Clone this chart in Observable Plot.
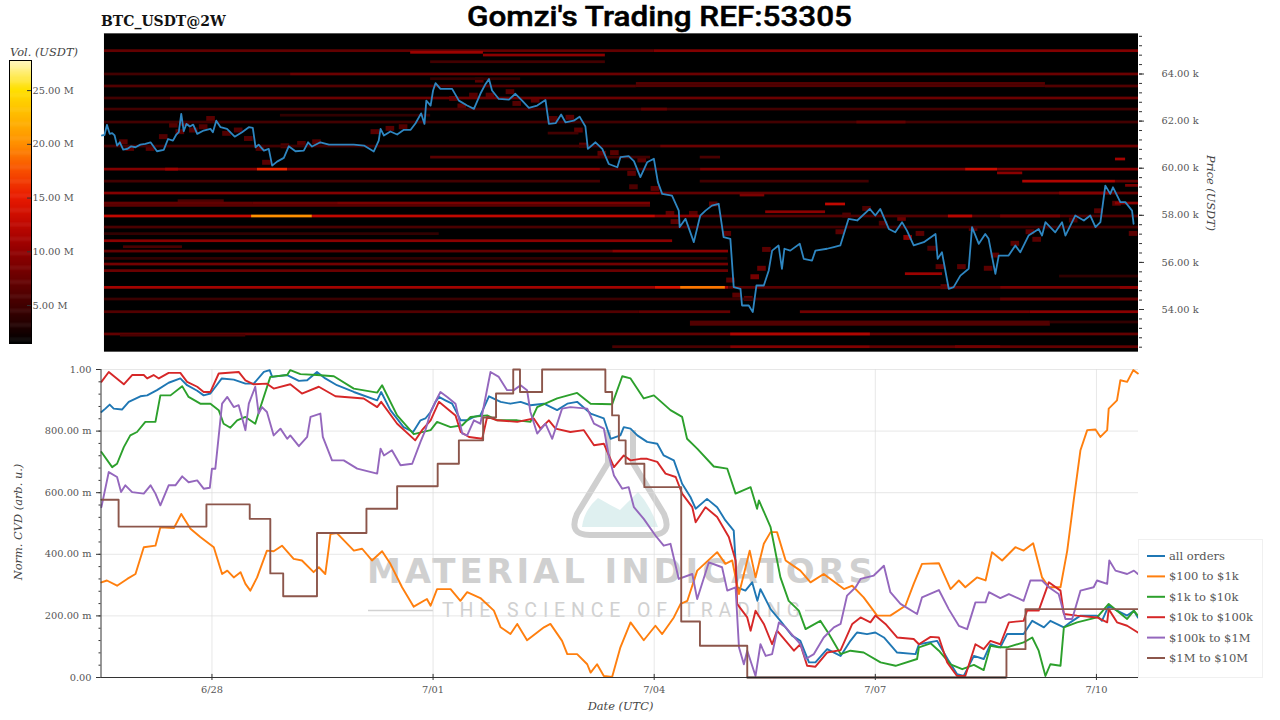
<!DOCTYPE html>
<html><head><meta charset="utf-8">
<script src="https://cdn.jsdelivr.net/npm/d3@7"></script>
<script src="https://cdn.jsdelivr.net/npm/@observablehq/plot@0.6"></script>
<style>
html,body{margin:0;padding:0;background:#fff;width:1280px;height:720px;overflow:hidden}
#page{position:relative;width:1280px;height:720px}
</style></head><body><div id="page"></div>
<script>
// Time is in hours after 2024-06-26 12:00 UTC.
const price = [[0.2,61390],[1,61410],[1.8,61840],[2.7,61460],[3.5,61490],[4.3,61390],[5.1,60960],[6,61100],[7.1,60790],[8.4,60820],[9.7,60930],[11.1,60890],[12.7,61000],[14.3,61030],[16,61100],[18.1,60720],[20.3,60780],[21.7,61240],[23.3,61170],[24.4,61430],[25.2,61530],[26,62310],[26.8,61570],[27.7,61880],[28.8,61770],[29.9,61850],[31.2,61460],[33.3,61600],[35.5,61670],[36.3,61530],[37.4,62020],[38.8,61740],[40.9,61670],[43.4,61340],[45.8,61530],[48,61740],[49.3,61710],[50.2,60890],[51.2,61000],[52.9,60750],[54.5,60820],[55.6,60110],[57.2,60280],[59.4,60440],[61,60930],[63.2,60720],[65.9,60750],[67.3,61100],[68.6,60920],[71.3,61100],[74.1,61000],[77.9,61000],[82.2,61000],[85.5,60960],[88.7,60710],[90.3,61170],[90.9,61670],[92,61390],[94.1,61560],[96.3,61430],[98.5,61630],[100.7,61630],[102.3,61910],[104.1,62330],[105.2,61880],[105.8,62870],[107.2,62660],[108,63300],[108.8,63610],[110.4,63370],[112,63370],[114.2,63370],[116.4,62870],[119.1,62660],[121.3,62520],[123.4,63160],[125.1,63580],[126.2,63790],[127.2,63300],[129.4,62940],[132.7,62910],[134.8,63160],[137,62870],[139.2,62560],[141.9,62660],[144.6,62900],[145.7,61880],[147.9,61910],[149.7,62280],[151.1,61950],[153.8,62020],[155.7,62190],[157.6,61770],[158.4,60820],[160.9,61100],[163.1,60820],[165.2,60180],[168,60040],[169,60470],[171.7,60510],[173.4,60300],[175.5,59620],[177.7,60250],[179.9,60400],[181.2,59410],[182.6,58910],[185.8,58840],[188,58200],[188.3,57500],[190.2,57850],[192.9,56860],[195,57990],[196.7,58200],[198.8,58410],[201,58490],[202.6,57070],[204.8,57000],[205.9,54950],[208.1,54880],[208.6,54170],[210.8,54170],[212.1,53890],[213.3,55020],[215.7,55020],[217.3,55660],[218.4,56500],[220.5,56720],[221.6,55730],[222.4,56580],[224.3,56500],[227.4,56790],[228.7,56150],[231.4,56080],[232.5,56500],[236.3,56580],[238.5,56650],[240.6,56720],[243.3,57850],[246.1,57780],[250.2,58270],[252,57990],[253.6,58270],[256.4,57420],[258.5,57280],[260.7,57710],[262.3,57350],[264.5,56720],[267.8,56860],[271.6,57210],[272.3,56150],[273.7,56430],[275.9,54880],[277.5,54950],[279.7,55440],[282.4,55730],[283.5,57500],[285.7,56790],[287.8,57210],[288.9,57000],[291.1,55510],[292.2,56290],[295.4,56290],[297.6,56720],[299.2,56430],[301.9,57140],[305.2,57420],[306.3,57140],[307.4,57710],[310.6,57280],[312.8,57710],[313.9,57140],[317.1,57990],[319.9,57780],[322,57990],[323.7,57500],[325.3,57710],[326.9,59260],[328.5,58910],[329.4,59190],[331.8,58560],[333.4,58560],[335.6,58200],[336.1,57640]];

const allOrders = [[0,862],[1.3,873],[2.7,886],[4,873],[6.7,870],[8.9,895],[12.7,913],[14.9,916],[18.1,933],[21.9,957],[25.7,971],[27.9,949],[31.2,931],[33.3,916],[35.5,922],[39.2,971],[43.1,967],[46.9,954],[49.6,954],[52.9,992],[54.8,998],[55.6,976],[60.5,982],[64.3,963],[67,965],[70.2,992],[72.9,971],[76.7,949],[82.2,927],[89.8,900],[91.1,927],[94.1,868],[98.4,813],[101.5,797],[103.9,835],[105.5,841],[107.2,862],[108.8,895],[109.9,911],[112,900],[114.2,889],[117,835],[119.1,835],[121.3,846],[123.4,851],[126.2,913],[130,895],[133.2,889],[136.5,895],[139.7,884],[144.1,889],[148.4,868],[151.7,889],[154.9,895],[159.3,857],[163.6,841],[165.8,775],[169,786],[170.1,813],[172.3,808],[174.5,786],[177.7,765],[181,759],[183.1,721],[186.4,705],[189.1,629],[191.8,586],[193.5,548],[197.2,580],[200.5,553],[203.2,510],[205.9,477],[207,293],[209.7,282],[211.9,309],[213.6,249],[214.6,287],[217.9,222],[221.1,184],[224.9,136],[227.6,119],[230.4,49],[232.5,49],[236.3,92],[240.7,70],[243.9,119],[245.6,141],[246.1,146],[249.3,141],[252,146],[254.8,130],[259.1,81],[265.1,76],[266.2,108],[272.1,119],[275.9,54],[278.6,11],[280.8,5],[284.1,70],[287.3,60],[289.5,108],[292.7,98],[294.9,141],[300.3,141],[303.1,184],[306.9,163],[309,184],[313.4,163],[315.5,179],[318.8,201],[324.2,201],[325.8,184],[328,233],[330.7,217],[334,201],[336.2,217],[337.5,195]];

const orders100to1k = [[0,309],[1.8,315],[5.1,298],[8.4,320],[11.1,336],[13.8,423],[17.6,428],[19.2,488],[23.6,485],[26,531],[29,483],[32.2,456],[36.6,423],[39.3,336],[41,347],[43.1,325],[45.3,342],[46.9,304],[48.5,282],[50.7,325],[53.9,412],[56.1,410],[58.8,428],[62.6,385],[65.3,380],[69.1,342],[70.8,358],[72.9,336],[74,418],[74.6,466],[76.7,469],[82.2,412],[84.9,418],[88.1,380],[91.4,410],[94.1,369],[97.9,293],[101.7,230],[106,255],[107.2,233],[109.3,287],[113.7,287],[116.9,249],[119.1,277],[123.4,258],[127.8,217],[130,163],[133.2,141],[135.4,174],[138.6,121],[144.1,163],[146.2,174],[150,119],[151.7,76],[154.9,76],[158.2,43],[159.3,16],[161.4,43],[163.6,5],[166.3,2],[169,98],[172.3,179],[176.6,121],[180.4,168],[182.6,141],[186.4,195],[188.6,239],[190.8,249],[194,347],[200.5,407],[203.2,369],[205.4,380],[207.6,271],[211.1,412],[213,325],[215.7,434],[217.9,472],[220,472],[222.8,380],[227.6,347],[230.9,309],[235.2,336],[241.8,287],[244.5,298],[248.2,260],[252.6,201],[256.9,201],[261.8,233],[264.5,304],[267.2,369],[272.7,371],[276.5,287],[279.2,315],[281.3,293],[285.1,325],[287.9,315],[290,407],[293.3,380],[297.6,423],[300.3,412],[303.4,436],[306.3,325],[308.5,293],[312.3,293],[314.5,412],[316.6,575],[318.8,738],[321,803],[323.7,805],[325.3,781],[327.5,803],[328,873],[330.7,900],[331.8,965],[334,960],[336,998],[337.5,987]];

const orders1kto10k = [[0,732],[3.5,683],[5.1,694],[7.3,748],[9.4,786],[11.6,797],[14.3,830],[17.6,830],[19.2,916],[22.5,916],[26.3,946],[28.4,911],[32.2,889],[35.5,889],[38.2,868],[39.8,824],[42,811],[44.2,835],[46.9,846],[50.1,824],[51.8,878],[55,976],[60.5,982],[61.5,998],[64.8,985],[70.2,982],[75.7,978],[82.2,938],[89.8,925],[91.4,949],[96.3,851],[101.7,790],[107.2,803],[109.3,830],[113.7,813],[117.5,819],[120.2,846],[125.6,851],[128.9,835],[135.4,835],[139.7,830],[141.9,878],[148.4,906],[154.9,924],[159.3,889],[166.3,887],[169.6,978],[172.3,971],[176.6,906],[179.9,916],[185.3,868],[189.1,846],[190.7,775],[194,743],[199.4,685],[203.8,678],[206.5,597],[211.4,618],[213.5,548],[214.1,575],[217.9,488],[221.1,325],[223.8,249],[227.1,217],[229.3,157],[234.1,184],[236.9,141],[240.7,76],[243.9,87],[248.2,81],[253.7,49],[258.6,38],[265.6,60],[266.2,98],[270,111],[272.7,87],[276.5,43],[280.3,27],[284.1,41],[287.3,24],[289.5,103],[292.2,98],[294.9,98],[300.3,114],[303.1,130],[305.2,87],[307.4,5],[309,43],[312.3,38],[313.4,163],[317.7,179],[324.2,195],[328,239],[330.7,217],[334,190],[336.2,217],[337.5,201]];

const orders10kto100k = [[0,960],[2.4,992],[7.3,952],[10,982],[13.8,982],[14.9,971],[17,982],[18.7,971],[21.9,989],[25.7,989],[27.9,960],[31.2,944],[33.3,927],[35.5,927],[38.2,987],[44.7,992],[46.9,965],[49.6,952],[53.9,954],[56.1,938],[61.5,952],[65.3,922],[70.8,944],[76.2,913],[85.4,906],[89.8,878],[91.1,895],[96.3,824],[102.2,770],[104.4,803],[107.2,835],[109.9,895],[115.3,851],[117,797],[119.7,781],[124,775],[125.6,846],[128.9,835],[135.4,830],[140.8,841],[143,808],[145.7,835],[147.9,808],[152.7,797],[157.1,803],[160.4,754],[163.6,759],[166.9,683],[170.1,721],[172.3,705],[175.5,710],[177.7,710],[181,700],[183.7,662],[187,651],[189.1,597],[192.4,553],[193.5,504],[196.7,553],[200.5,521],[204.3,456],[206.5,380],[207,239],[210.3,195],[211.4,152],[213,217],[215.7,174],[218.4,108],[220,152],[225.5,87],[227.6,108],[229.8,38],[232.5,35],[236.3,81],[240.7,89],[244.5,174],[247.2,195],[250.4,179],[252,201],[255.3,174],[259.1,130],[264.5,125],[266.2,108],[270,132],[272.7,130],[275.4,49],[278.6,5],[281.3,5],[284.6,108],[287.3,92],[289.5,119],[292.7,108],[295.5,179],[300.3,184],[301.4,217],[305.2,217],[308.5,309],[312.3,282],[313.4,206],[317.7,201],[324.2,195],[327.5,179],[328,222],[330.7,179],[334,168],[337.5,146]];

const orders100kto1M = [[0,553],[2.4,667],[5.1,651],[6.4,602],[7.8,624],[10,602],[13.8,597],[16,624],[17.6,597],[19.2,559],[21.9,624],[24.1,624],[26.3,653],[28.4,634],[31.2,640],[33.3,613],[35.3,616],[36,678],[37.1,678],[39.3,889],[41,911],[43.1,878],[44.7,884],[46.9,803],[48,889],[50.1,944],[51.2,857],[52.3,878],[53.9,862],[56.1,786],[58.3,808],[60.5,775],[61.5,786],[64.3,751],[67,781],[68.1,846],[71.3,857],[72.1,781],[75.1,705],[78.9,705],[83.3,678],[89.8,662],[90.9,743],[92,721],[94.6,738],[97.4,689],[101.2,694],[103.9,765],[105.5,803],[107.2,862],[109.3,906],[110.4,927],[112.6,911],[115.3,889],[117.5,792],[119.1,786],[121.3,835],[123.4,824],[126.7,992],[129.4,976],[132.1,933],[134.3,933],[136.5,949],[138.6,933],[139.7,862],[141.9,792],[144.6,824],[146.8,775],[150,873],[152.7,878],[158.2,873],[160.4,824],[163.6,808],[165.2,721],[166.9,656],[169.6,613],[171.7,618],[173.4,553],[176.6,515],[180.4,461],[183.1,428],[185.3,434],[188,320],[192.4,336],[194,255],[197.8,374],[202.1,358],[203.8,282],[206.5,293],[207.6,98],[209.2,43],[210.3,87],[213,5],[214.6,108],[216.3,70],[218.4,76],[220.6,179],[222.8,163],[227.6,108],[229.3,60],[232,76],[235.2,130],[238.5,163],[240.7,174],[242.8,266],[245.6,293],[247.2,320],[251.5,331],[254.8,363],[256.9,277],[260.2,239],[265.6,206],[267.2,260],[272.7,284],[275.9,222],[279.2,168],[281.9,157],[284.6,244],[287.9,244],[289,277],[292.7,258],[295.5,271],[300.3,249],[302.5,315],[306.3,315],[308.5,293],[311.7,271],[313.9,190],[316.1,190],[318.8,282],[323.1,293],[324.2,315],[327.5,304],[328.2,380],[330.2,347],[334,336],[336.2,347],[337.5,336]];

const orders1Mto10M = [[0,577],[5.6,490],[34.2,562],[48.3,515],[55,338],[59.2,264],[70.2,469],[86.3,548],[96.3,621],[109.5,694],[116.4,770],[124.3,844],[128.5,922],[134.1,1000],[136.3,927],[143.5,1000],[164.1,927],[166.3,851],[168.5,770],[170.7,694],[176.8,618],[188.8,182],[194.9,103],[210.3,0],[294.7,92],[300.9,222],[337.7,222]];

// Order-book rows: [price, from hour, to hour, volume in millions]
const heatRows = [
[64970,1,180,7],[64970,180,337.7,9],[64900,100.7,124.4,10.5],[64785,124.4,164.1,9.5],[64500,107.2,164.1,5],
[63980,1,61.6,5],[63980,61.6,337.7,7.5],[63780,107.2,136.5,4],
[63580,174.2,307.4,6],[63480,174.2,307.4,6],[63470,1,174.2,6],[63470,307.4,337.7,6],
[62960,22.5,337.7,7.5],[62960,1,22.5,5],[62490,1,337.7,5],[62490,175.9,184.3,7],
[62230,58.3,107.2,4],[61940,1,337.7,5],[61940,246,262,7],[61470,145.5,155.5,5],
[60920,1,182.1,5],[60920,182.1,337.7,7.5],
[60450,107.2,162.5,6.5],[60450,162.5,178.8,5],[60450,195,201.6,5.5],[60370,330.2,333.5,11],
[59940,1,50.8,9],[59940,50.8,60.6,15.5],[59940,60.6,162.5,9],[59940,162.5,195.1,5.5],[59940,195.1,281.4,8.5],[59940,281.4,291.8,13],[59940,291.8,337.7,9],[59940,20.9,25.1,10.5],[59780,291.8,300,9.5],
[59430,1,162.5,5],[59430,195,250,5],[59430,300,330.2,11.5],[59430,330.2,337.7,7],[59250,333.5,337.7,8.5],
[58925,1,182,9],[58925,182,337.7,7],[58925,312,328.6,9],[58840,208,216,8.5],
[58600,25,40,5.5],[58500,1,49.5,7],[58500,49.5,76.9,7.5],[58500,76.9,178.8,8.5],[58500,330.2,337.7,9.5],[58460,235.8,242.3,12.5],[58400,1,178.8,6.5],[58130,216.3,235.8,9.5],
[57950,1,48.9,12.5],[57950,48.9,68.7,20],[57950,68.7,180.4,12.5],[57950,180.4,195,9.5],[57950,195,337.7,6],[57950,275.8,283.7,12],[57950,292.8,312.3,8],
[57480,1,195,5.5],[57480,195,337.7,5],[57200,1,110,4],
[56900,1,186,9.5],[56645,7.2,26.4,5.5],[56460,1,166.5,7],[56460,166.5,204.2,9.5],[56150,1,204,4],
[55910,1,204.2,8],[55630,1,204.2,7.5],[55500,261.8,273.9,10.5],[55400,312,337.7,4],
[54920,1,180.4,11],[54920,180.4,188.6,14],[54920,188.6,203.2,19],[54920,203.2,204.2,11],[54920,204.2,292.8,6.5],[54920,292.8,337.7,8.5],[54920,331.8,337.7,9.5],
[54425,1,337.7,4.5],[54425,292.8,337.7,7],
[53885,1,175,6],[53885,175,204.9,7],[53885,227.6,302.5,8],[53885,302.5,337.7,9.5],
[53450,191.8,309,6],[53350,191.8,309,6],[53450,309,337.7,4],
[52940,1,337.7,7],[52890,6.2,47,5.5],[52940,204.9,250.4,11.5],
[52400,166.5,204.9,5.5],[52400,204.9,250.4,9],[52400,250.4,337.7,7],[52400,278.1,292.8,8]
];
// Short volume clusters sitting along the traded price: [hour, price, volume in millions]
const priceClusters = [[7.3,61100,7.5],[9.4,60820,7.5],[16,60820,7],[20.3,61320,7],[23.6,61810,7],[25.7,61530,7.5],[27.4,61880,7.5],[30.1,61600,7],[33.3,61740,7],[35.7,62090,7.5],[40.9,61460,7],[44.7,61600,7],[48,61240,7],[51.8,60820,7],[53.9,60230,7.5],[59.9,60930,7],[65.3,61030,7],[70.2,61100,7],[89.2,61530,7.5],[94.1,61670,7.5],[98.4,61740,7],[114.8,62940,7],[117.5,62620,7.5],[121.3,63080,7],[123.2,63720,7.5],[126.7,63080,7.5],[133.2,63230,7],[135.4,62730,7],[141.4,62870,7.5],[147.3,62090,7],[152.7,62140,7.5],[155.5,61600,7.5],[157.1,60960,7.5],[163.1,60610,7.5],[167.2,60640,7.5],[172.8,59760,7.5],[176.1,60330,7.5],[173.4,59190,6.5],[180.4,59120,7.5],[185.3,58060,7.5],[186.9,57710,7.5],[192.9,58060,7],[199.4,58460,7.5],[203.8,57210,7.5],[216.7,56530,7.5],[215.1,55730,8.5],[212.9,55370,9.5],[210.8,54450,7.5],[205,55230,7.5],[207,54590,7.5],[240.6,57280,7.5],[242.8,57990,6.5],[249.3,58270,6.5],[254.7,57640,6.5],[260.7,57850,8.5],[262.7,57040,11],[266.7,57210,7.5],[270.5,56580,6.5],[273.2,55800,7.5],[274.8,54950,7.5],[280.2,55800,7.5],[284,57420,7.5],[288.9,55730,7.5],[291.1,56290,7.5],[297.6,56790,7.5],[302.5,57280,7.5],[304.7,56960,7.5],[316.6,57780,6.5],[324.8,58170,7.5],[330.7,58490,7.5],[336.1,57210,7.5]];

const volumeStops = [1.47,3,5,7.5,10,12.5,15,17.5,20,22.5,25,27.8];
const volumeColors = ["#000000","#200000","#420000","#6a0000","#920000","#c00800","#e81a00","#f85000","#ff9000","#ffb800","#ffe000","#fff8c8"];
const volumeTicks = [5,10,15,20,25];
const priceTicks = [54000,56000,58000,60000,62000,64000];
const cvdTicks = [0,200,400,600,800,1000];
const dateTicks = [[5,28],[6,1],[6,4],[6,7],[6,10]].map(([m,d])=>new Date(Date.UTC(2024,m,d)));
const seriesNames = ["all orders","$100 to $1k","$1k to $10k","$10k to $100k","$100k to $1M","$1M to $10M"];
const seriesColors = ["#1f77b4","#ff7f0e","#2ca02c","#d62728","#9467bd","#8c564b"];
const seriesData = [allOrders,orders100to1k,orders1kto10k,orders10kto100k,orders100kto1M,orders1Mto10M];

const t0 = Date.UTC(2024,5,26,12);
const T = h => new Date(t0 + h*3600000);
const xDomain = [T(-0.13), T(337.7)];
const font = "DejaVu Serif";
const TXT = "#555", TK = "#333";
const baseStyle = {background:"transparent", fontFamily:font, fontSize:"9.8px"};
const colorOpt = {type:"linear", domain:volumeStops, range:volumeColors, clamp:true};

const page = document.getElementById("page");
const wm = document.createElementNS("http://www.w3.org/2000/svg","svg");
wm.setAttribute("width",1280); wm.setAttribute("height",720);
wm.innerHTML = `
<path d="M608 430 V463 L577 514 Q568 535 590 535 H651 Q673 535 664 514 L633 463 V430" fill="none" stroke="#cfcfcf" stroke-width="6" stroke-linejoin="round"/>
<path d="M582 527 Q584 510 598 498 Q610 505 620 510 Q630 500 638 492 Q650 505 658 527 Z" fill="#dff0f0"/>
<text x="367" y="583" textLength="506" lengthAdjust="spacing" font-family="DejaVu Sans" font-weight="700" font-size="34" fill="#d0d0d0">MATERIAL INDICATORS</text>
<text x="442" y="617" textLength="358" lengthAdjust="spacing" font-family="Roboto" font-size="19.5" fill="#d0d0d0">THE SCIENCE OF TRADING</text>
<line x1="368" x2="433" y1="610.5" y2="610.5" stroke="#d2d2d2" stroke-width="1.5"/>
<line x1="805" x2="872" y1="610.5" y2="610.5" stroke="#d2d2d2" stroke-width="1.5"/>`;
page.appendChild(wm);

const clusterW = 1.4, clusterH = 105;
const topPlot = Plot.plot({
  width:1280, height:720, marginLeft:100.5, marginRight:142, marginTop:33, marginBottom:369,
  style:baseStyle,
  x:{type:"utc", domain:xDomain, axis:null},
  y:{domain:[52217,65720], axis:null},
  color:colorOpt,
  marks:[
    Plot.rect([0],{x1:()=>T(1), x2:()=>T(337.7), y1:()=>52217, y2:()=>65720, fill:"#000"}),
    Plot.rect(priceClusters,{x1:d=>T(d[0]-clusterW), x2:d=>T(d[0]+clusterW), y1:d=>d[1]-clusterH, y2:d=>d[1]+clusterH, fill:d=>d[2], opacity:0.85}),
    Plot.rect(heatRows,{x1:d=>T(d[1]), x2:d=>T(d[2]), y1:d=>d[0]-58, y2:d=>d[0]+58, fill:d=>d[3]}),
    Plot.ruleY([65720,52217],{x1:()=>T(1),x2:()=>T(337.7),stroke:"#555",strokeWidth:1}),
    Plot.line(price,{x:d=>T(d[0]), y:d=>d[1], stroke:"#2e86c1", strokeWidth:1.8}),
    Plot.axisY(d3.range(52400,65720,400),{anchor:"right", tickSize:3, tickFormat:()=>"", stroke:TK, label:null}),
    Plot.axisY(priceTicks,{anchor:"right", tickSize:5, tickPadding:18, color:TXT, stroke:TK, tickFormat:d=>(d/1000).toFixed(2)+" k", label:null, textAnchor:"start"})
  ]
});
const barPlot = Plot.plot({
  width:100, height:720, marginLeft:9, marginRight:69, marginTop:60, marginBottom:377,
  style:baseStyle,
  x:{domain:[0,1], axis:null},
  y:{domain:[1.47,27.8], axis:null},
  color:colorOpt,
  marks:[
    Plot.rect(d3.range(1.47,27.8,0.1),{x1:()=>0,x2:()=>1,y1:d=>d,y2:d=>Math.min(d+0.15,27.8),fill:d=>d}),
    Plot.frame({stroke:"#000",strokeWidth:1}),
    Plot.ruleY(volumeTicks,{x1:()=>0.82,x2:()=>1,stroke:TK}),
    Plot.text(volumeTicks,{x:()=>1,y:d=>d,text:d=>d.toFixed(2)+" M",textAnchor:"start",dx:1,fill:TXT,fontSize:9.8})
  ]
});
const bottomPlot = Plot.plot({
  width:1280, height:720, marginLeft:100.5, marginRight:142, marginTop:369, marginBottom:43,
  style:baseStyle,
  x:{type:"utc", domain:xDomain, axis:null},
  y:{domain:[0,1000], axis:null},
  marks:[
    Plot.gridX(dateTicks,{stroke:"#ddd",strokeOpacity:0.7}),
    Plot.gridY(cvdTicks,{stroke:"#ddd",strokeOpacity:0.7}),
    ...seriesData.map((s,i)=>Plot.line(s,{x:d=>T(d[0]),y:d=>d[1],stroke:seriesColors[i],strokeWidth:1.9,curve:i===5?"step-after":"linear"})),
    Plot.ruleX([xDomain[0]],{stroke:TK,strokeWidth:1}),
    Plot.ruleY([0],{stroke:TK,strokeWidth:1}),
    Plot.ruleY([0],{x1:()=>T(210.3),x2:()=>T(294.7),stroke:"#222",strokeWidth:1.7}),
    Plot.ruleX(dateTicks,{y1:()=>0,y2:()=>10,stroke:TK}),
    Plot.axisY(d3.range(0,1001,40),{anchor:"left",tickSize:2,tickFormat:()=>"",stroke:TK,label:null}),
    Plot.axisY(cvdTicks,{anchor:"left",tickSize:4.5,tickPadding:5,color:TXT,stroke:TK,label:null,tickFormat:d=>d===0?"0.00":d===1000?"1.00":d.toFixed(2)+" m"}),
    Plot.axisX(dateTicks,{anchor:"bottom",tickSize:3,tickPadding:6,color:TXT,stroke:TK,label:null,tickFormat:d3.utcFormat("%-m/%d")})
  ]
});
page.appendChild(topPlot); page.appendChild(barPlot); page.appendChild(bottomPlot);
[wm,topPlot,barPlot,bottomPlot].forEach(s=>{s.style.position="absolute";s.style.left="0";s.style.top="0";s.style.maxWidth="none";});

const anno = document.createElementNS("http://www.w3.org/2000/svg","svg");
anno.setAttribute("width",1280); anno.setAttribute("height",720);
const legendRows = seriesNames.map((n,i)=>{
  const y = 556 + i*20.4;
  return `<line x1="1147" x2="1165" y1="${y}" y2="${y}" stroke="${seriesColors[i]}" stroke-width="2"/>`+
    `<text x="1169" y="${y+4}" font-family="${font}" font-size="11.5" fill="#555">${n}</text>`;
}).join("");
anno.innerHTML = `
<text x="101" y="26" font-family="${font}" font-weight="700" font-size="14" fill="#111">BTC_USDT@2W</text>
<text x="467" y="26" textLength="385" lengthAdjust="spacingAndGlyphs" font-family="Roboto" font-weight="500" font-size="27.5" stroke="#000" stroke-width="0.5" fill="#000">Gomzi's Trading REF:53305</text>
<text x="10" y="56" font-family="${font}" font-style="italic" font-size="11.4" fill="#444">Vol. (USDT)</text>
<text transform="translate(1207,193) rotate(90)" text-anchor="middle" font-family="${font}" font-style="italic" font-size="11.3" fill="#444">Price (USDT)</text>
<text transform="translate(22,522) rotate(-90)" text-anchor="middle" font-family="${font}" font-style="italic" font-size="11.4" fill="#444">Norm. CVD (arb. u.)</text>
<text x="620.5" y="710" text-anchor="middle" font-family="${font}" font-style="italic" font-size="11.4" fill="#444">Date (UTC)</text>
<rect x="1138.5" y="539.5" width="124" height="138" fill="#fff" stroke="#f0f0f0"/>
${legendRows}`;
anno.style.position="absolute"; anno.style.left="0"; anno.style.top="0";
page.appendChild(anno);
</script></body></html>
